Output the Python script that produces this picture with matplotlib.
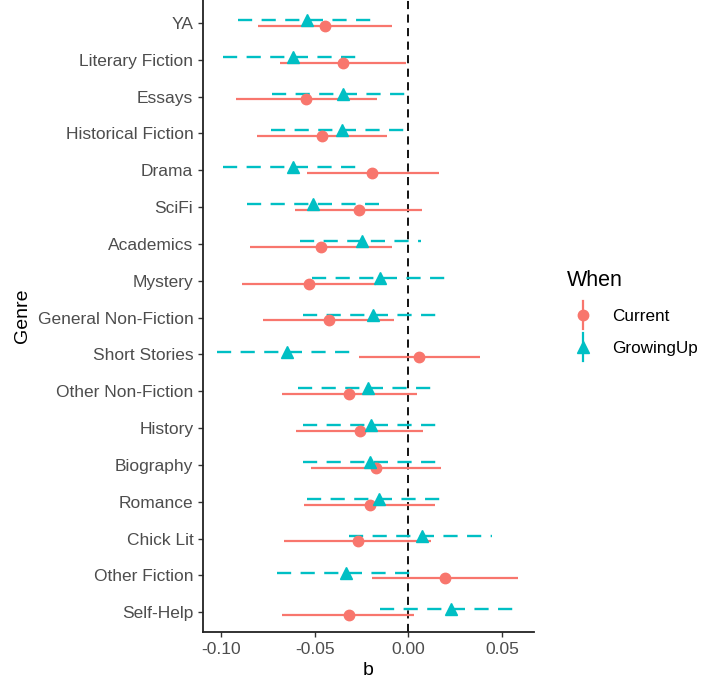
import numpy as np
import matplotlib
matplotlib.use('Agg')
import matplotlib.pyplot as plt
from matplotlib.lines import Line2D
from matplotlib.legend_handler import HandlerBase

plt.rcParams['font.family'] = ['Liberation Sans', 'DejaVu Sans']

genres = ['YA', 'Literary Fiction', 'Essays', 'Historical Fiction', 'Drama', 'SciFi',
          'Academics', 'Mystery', 'General Non-Fiction', 'Short Stories',
          'Other Non-Fiction', 'History', 'Biography', 'Romance', 'Chick Lit',
          'Other Fiction', 'Self-Help']

# Current
cur_b = [-0.0445, -0.0351, -0.0547, -0.0461, -0.0193, -0.0265,
         -0.0469, -0.0529, -0.0424, 0.0057, -0.0317, -0.0258,
         -0.0173, -0.0205, -0.0271, 0.0196, -0.0317]
cur_lo = [-0.0802, -0.0686, -0.0923, -0.0807, -0.0543, -0.0606,
          -0.0847, -0.0888, -0.0775, -0.0262, -0.0677, -0.0601,
          -0.0522, -0.0556, -0.0665, -0.0196, -0.0674]
cur_hi = [-0.0086, -0.0012, -0.0166, -0.0116, 0.0163, 0.0072,
          -0.0086, -0.0175, -0.0075, 0.0383, 0.0045, 0.0080,
          0.0175, 0.0143, 0.0120, 0.0588, 0.0032]

# GrowingUp
grow_b = [-0.0543, -0.0615, -0.0348, -0.0355, -0.0615, -0.0511,
          -0.0246, -0.0151, -0.0191, -0.0647, -0.0217, -0.0201,
          -0.0205, -0.0157, 0.0075, -0.0335, 0.0227]
grow_lo = [-0.0909, -0.0993, -0.0731, -0.0734, -0.0989, -0.0864,
           -0.0579, -0.0513, -0.0561, -0.1025, -0.0588, -0.0565,
           -0.0561, -0.0540, -0.0316, -0.0704, -0.0151]
grow_hi = [-0.0169, -0.0237, 0.0027, 0.0021, -0.0237, -0.0157,
           0.0066, 0.0214, 0.0187, -0.0267, 0.0152, 0.0157,
           0.0160, 0.0214, 0.0446, 0.0041, 0.0594]

red = '#F8766D'
teal = '#00BFC4'
txt = '#4D4D4D'

fig = plt.figure(figsize=(7.01, 6.84), dpi=100)
ax = fig.add_axes([203 / 701, 1 - 632 / 684, (534 - 203) / 701, 632 / 684])

n = len(genres)
ypos = np.arange(n)[::-1]
dodge = 0.078

ax.axvline(0, color='black', linestyle=(0, (4.5, 3)), linewidth=1.3, zorder=1)

ax.hlines(ypos - dodge, cur_lo, cur_hi, color=red, linewidth=1.6, zorder=2)
ax.plot(cur_b, ypos - dodge, 'o', color=red, markersize=7.5, zorder=3)

ax.hlines(ypos + dodge, grow_lo, grow_hi, color=teal, linewidth=1.7,
          linestyles=(0, (6, 4)), zorder=2)
ax.plot(grow_b, ypos + dodge, '^', color=teal, markersize=9, zorder=3)

ax.set_xlim(-0.1098, 0.0672)
ax.set_ylim(-0.535, n - 1 + 0.62)
ax.set_yticks(ypos)
ax.set_yticklabels(genres)
ax.set_xticks([-0.10, -0.05, 0.00, 0.05])
ax.set_xticklabels(['-0.10', '-0.05', '0.00', '0.05'])
ax.tick_params(axis='both', colors='#333333', labelcolor=txt, labelsize=12.5,
               length=3.5, width=1)
for s in ['top', 'right']:
    ax.spines[s].set_visible(False)
for s in ['left', 'bottom']:
    ax.spines[s].set_linewidth(1.3)
    ax.spines[s].set_color('#222222')
ax.set_xlabel('b', fontsize=14, labelpad=4)
ax.set_ylabel('Genre', fontsize=14, labelpad=5)


class VertRange(HandlerBase):
    def __init__(self, marker, color, size):
        super().__init__()
        self.marker = marker
        self.color = color
        self.size = size

    def create_artists(self, legend, orig_handle, xdescent, ydescent,
                       width, height, fontsize, trans):
        cx = width / 2 - xdescent
        cy = height / 2 - ydescent
        line = Line2D([cx, cx], [cy - 10, cy + 10],
                      color=self.color, linewidth=1.6, transform=trans)
        mk = Line2D([cx], [cy], marker=self.marker,
                    color=self.color, markersize=self.size, linestyle='none',
                    transform=trans)
        return [line, mk]


h1 = Line2D([], [], color=red)
h2 = Line2D([], [], color=teal)
leg = fig.legend([h1, h2], ['Current', 'GrowingUp'], title='When',
                 loc='upper left', bbox_to_anchor=(563 / 701, 1 - 267 / 684),
                 frameon=False, fontsize=12.3, title_fontsize=15.5,
                 handler_map={h1: VertRange('o', red, 7.5),
                              h2: VertRange('^', teal, 9)},
                 handlelength=1.95, labelspacing=1.02, handletextpad=0.72,
                 borderpad=0.2, borderaxespad=0)
leg._legend_box.align = 'left'

fig.savefig('out.png', dpi=100)
